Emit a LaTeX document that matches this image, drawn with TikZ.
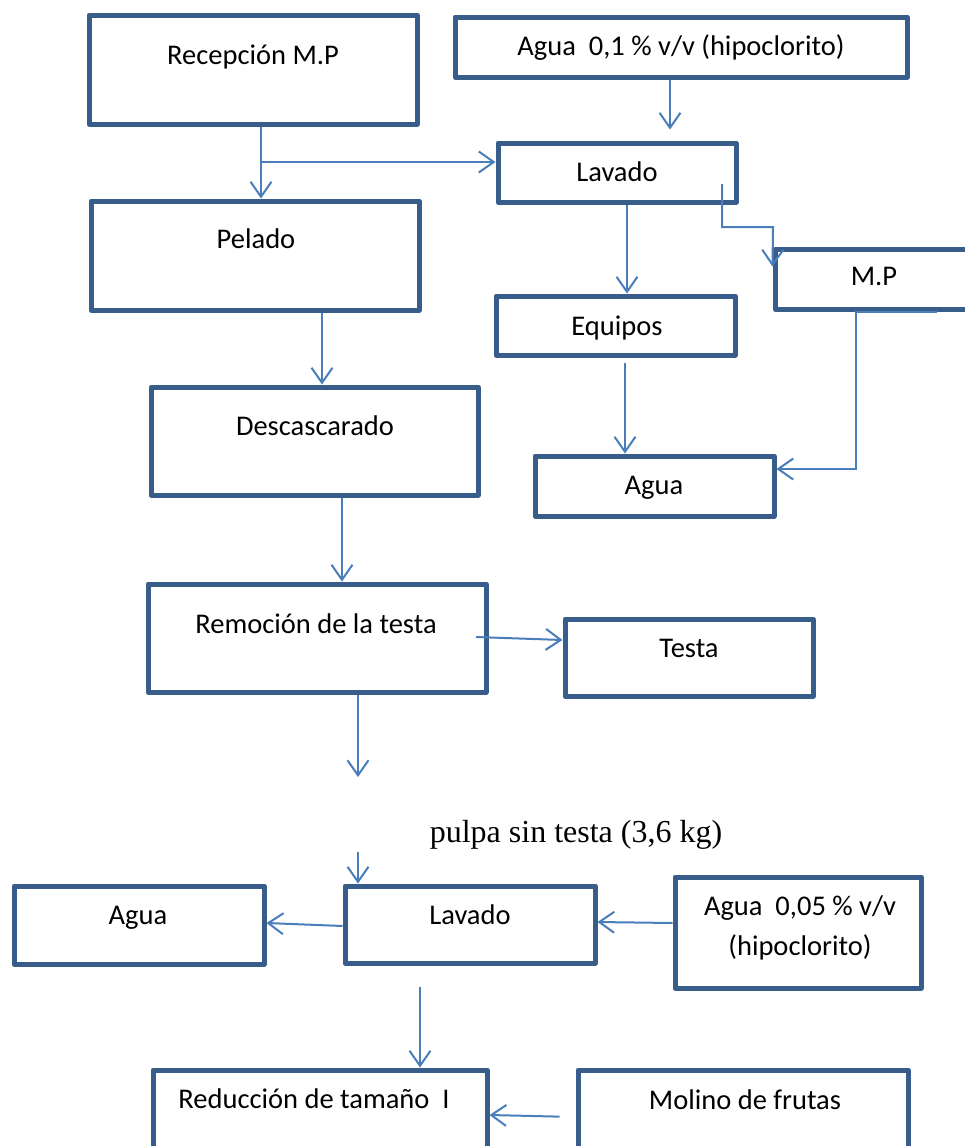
\documentclass[tikz,border=0pt]{standalone}
\usepackage{fontspec}
\setmainfont{Carlito}
\newfontfamily\timesf{Liberation Serif}
\usetikzlibrary{arrows.meta}
\definecolor{boxc}{RGB}{56,93,138}
\definecolor{arrc}{RGB}{74,126,187}
\begin{document}
\begin{tikzpicture}[x=1pt,y=-1pt,
  box/.style={draw=boxc, line width=5pt, line join=round, rectangle, inner sep=0pt},
  txt/.style={anchor=base, inner sep=0pt, font=\fontsize{28.5}{34}\selectfont},
  arr/.style={draw=arrc, line width=2pt, -{Straight Barb[length=15pt,width=21pt]}}]
\fill[white] (0,0) rectangle (964,1146);
\useasboundingbox (0,0) rectangle (964,1146);

% boxes
\node[box, minimum width=328pt, minimum height=109pt] (recep) at (253,69.5) {};
\node[box, minimum width=328pt, minimum height=109pt] (pelado) at (255,255.5) {};
\node[box, minimum width=452pt, minimum height=60pt] (agua1) at (681,47) {};
\node[box, minimum width=238pt, minimum height=59pt] (lavado1) at (617,172.5) {};
\node[box, minimum width=239pt, minimum height=59pt] (equipos) at (615.5,325.5) {};
\node[box, minimum width=235pt, minimum height=60pt] (mp) at (892.5,279) {};
\node[box, minimum width=327pt, minimum height=108pt] (descasc) at (314.5,441) {};
\node[box, minimum width=239pt, minimum height=60pt] (agua2) at (654.5,486) {};
\node[box, minimum width=338pt, minimum height=108pt] (remocion) at (317,638) {};
\node[box, minimum width=248pt, minimum height=77pt] (testa) at (689,657.5) {};
\node[box, minimum width=250pt, minimum height=78pt] (agua3) at (139,925) {};
\node[box, minimum width=250pt, minimum height=77pt] (lavado2) at (470,924.5) {};
\node[box, minimum width=246pt, minimum height=111pt] (agua4) at (798,932.5) {};
\node[box, minimum width=334pt, minimum height=128pt] (reduccion) at (320,1134) {};
\node[box, minimum width=330pt, minimum height=128pt] (molino) at (743,1134) {};

% texts
\node[txt] (tRecep) at (253,64) {Recepción M.P};
\node[txt] (tPelado) at (256,248) {Pelado};
\node[txt] (tAgua1) at (681,55) {Agua\ \ 0,1 \% v/v (hipoclorito)};
\node[txt] (tLav1) at (617,181) {Lavado};
\node[txt] (tEquipos) at (617,335) {Equipos};
\node[txt] (tMP) at (874,285) {M.P};
\node[txt] (tDesc) at (315,435) {Descascarado};
\node[txt] (tAgua2) at (654,494) {Agua};
\node[txt] (tRem) at (316,633) {Remoción de la testa};
\node[txt] (tTesta) at (689,657) {Testa};
\node[anchor=base, inner sep=0pt, font=\timesf\fontsize{32}{38}\selectfont] (tPulpa) at (576,842) {pulpa sin testa (3,6 kg)};
\node[txt] (tAgua3) at (138,924) {Agua};
\node[txt] (tLav2) at (470,924) {Lavado};
\node[txt] (tAgua4a) at (800,915) {Agua\ \ 0,05 \% v/v};
\node[txt] (tAgua4b) at (800,955) {(hipoclorito)};
\node[txt] (tRed) at (314,1108) {Reducción de tamaño\ \ I};
\node[txt] (tMol) at (745,1109) {Molino de frutas};

% connectors
\coordinate (br) at ([xshift=8pt,yshift=-35.5pt]recep.south);
\coordinate (l1r) at ([xshift=105pt,yshift=-11.5pt]lavado1.center);
\coordinate (k) at (773,227);
\coordinate (c11) at (358,777);
\coordinate (c12) at (358,852);

\draw[arr] ([xshift=8pt]recep.south) -- ([xshift=8pt]recep.south |- pelado.north);
\draw[arr] (br) -- (br -| lavado1.west);
\draw[arr, shorten >=11pt] ([xshift=-11pt]agua1.south) -- ([xshift=-11pt]agua1.south |- lavado1.north);
\draw[arr] ([xshift=10pt]lavado1.south) -- ([xshift=10pt]lavado1.south |- equipos.north);
\draw[arr] (l1r) |- (k) -- ([yshift=-20pt]mp.north west);
\draw[arr] ([xshift=67pt]pelado.south) -- ([xshift=67pt]pelado.south |- descasc.north);
\draw[arr, shorten <=5.5pt] ([xshift=9.5pt]equipos.south) -- ([xshift=9.5pt]equipos.south |- agua2.north);
\draw[arr] ([xshift=44.5pt]mp.south) -- ([xshift=-36.5pt]mp.south) |- ([yshift=17pt]agua2.east);
\draw[arr] ([xshift=27.5pt]descasc.south) -- ([xshift=27.5pt]descasc.south |- remocion.north);
\draw[arr] ([xshift=159pt,yshift=1pt]remocion.center) -- ([yshift=17.5pt]testa.west);
\draw[arr] (remocion.south -| c11) -- (c11);
\draw[arr] (c12) -- (c12 |- lavado2.north);
\draw[arr] ([yshift=-1.5pt]lavado2.west) -- ([yshift=2pt]agua3.east);
\draw[arr] ([yshift=9.5pt]agua4.west) -- ([yshift=2.5pt]lavado2.east);
\draw[arr, shorten <=21pt] ([xshift=-50pt]lavado2.south) -- ([xshift=-50pt]lavado2.south |- reduccion.north);
\draw[arr, shorten <=16pt] ([yshift=17pt]molino.west) -- ([yshift=19pt]reduccion.east);
\end{tikzpicture}
\end{document}
